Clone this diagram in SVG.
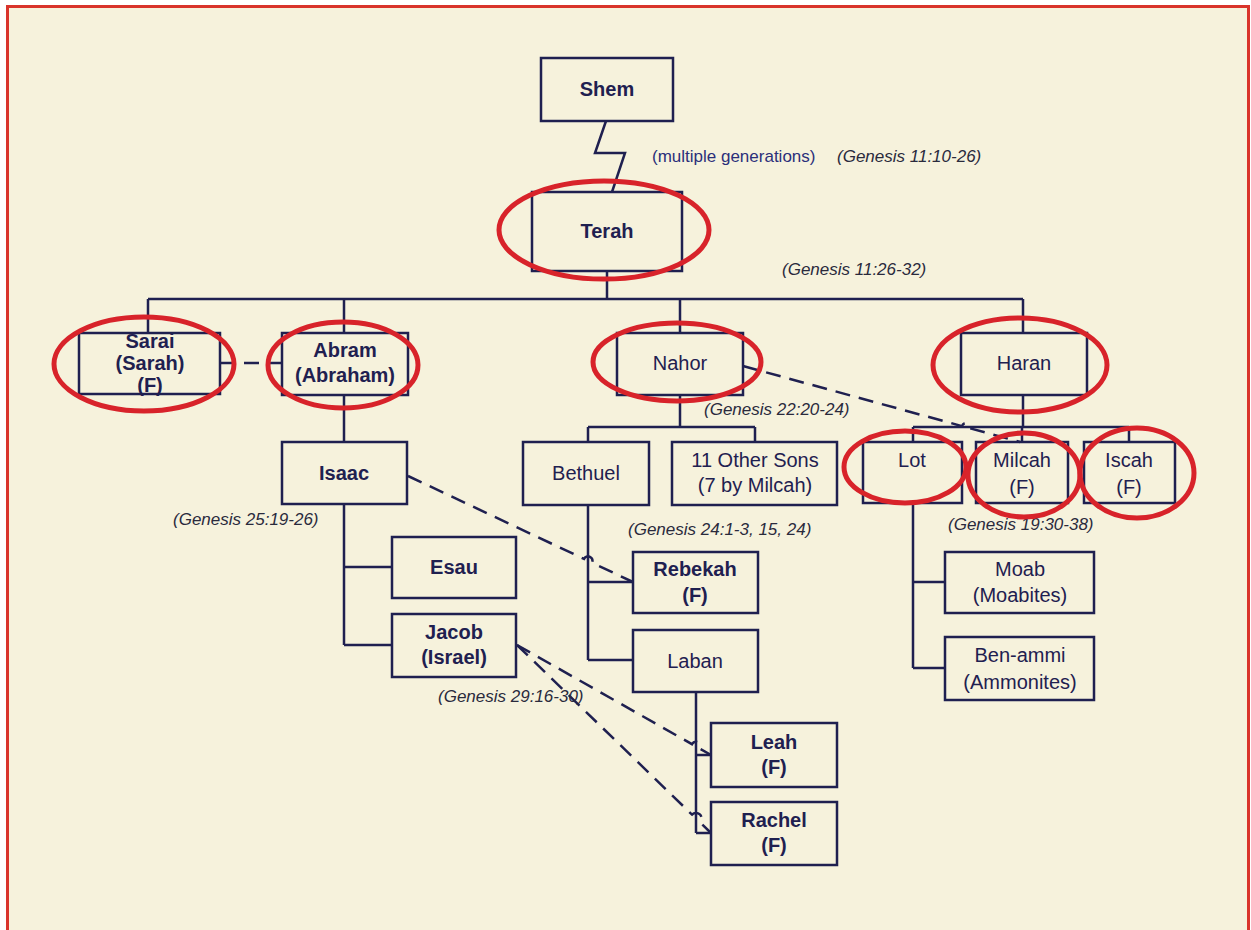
<svg xmlns="http://www.w3.org/2000/svg" width="1251" height="930" viewBox="0 0 1251 930">
<style>
.box{fill:none;stroke:#1f2050;stroke-width:2.5}
.ln{fill:none;stroke:#1f2050;stroke-width:2.5}
.dash{fill:none;stroke:#1f2050;stroke-width:2.5;stroke-dasharray:15 9}
.t{font-family:"Liberation Sans",Arial,sans-serif;font-size:20px;fill:#1f2050;text-anchor:middle}
.b{font-weight:bold}
.ref{font-family:"Liberation Sans",Arial,sans-serif;font-size:17px;font-style:italic;fill:#2a2a3c}
.note{font-family:"Liberation Sans",Arial,sans-serif;font-size:17px;fill:#2b2f7a}
.ring{fill:none;stroke:#d8232a;stroke-width:5}
</style>
<rect x="0" y="0" width="1251" height="930" fill="#ffffff"/>
<rect x="7.5" y="6.5" width="1241" height="930" fill="#f6f2dc"/>
<path d="M7.5 931 V6.5 H1248.5 V931" fill="none" stroke="#d9342b" stroke-width="3"/>

<g id="connectors">
<path class="ln" d="M606 121 L595 153 L625 153 L612 192"/>
<path class="ln" d="M607 271 V299 M148 299 H1023 M148 299 V333 M344 299 V333 M680 299 V333 M1023 299 V333"/>
<path class="dash" d="M220 363 H282"/>
<path class="ln" d="M344 395 V442"/>
<path class="ln" d="M680 395 V427 M588 427 H755 M588 427 V442 M755 427 V442"/>
<path class="ln" d="M1023 395 V427 M913 427 H1129 M913 427 V442 M1022 427 V442 M1129 427 V442"/>
<path class="ln" d="M344 504 V645 M344 567 H392 M344 645 H392"/>
<path class="ln" d="M588 505 V660 M588 582 H633 M588 660 H633"/>
<path class="ln" d="M696 692 V833 M696 755 H711 M696 833 H711"/>
<path class="ln" d="M913 503 V668 M913 582 H945 M913 668 H945"/>
<path class="dash" d="M743 366 L962 426.1 A4 4 0 0 1 970 428.3 L1020 442"/>
<path class="dash" d="M408 476 L584 558.9 A4 4 0 0 1 592 562.7 L633 582"/>
<path class="dash" d="M517 645 L692 744.2 A4 4 0 0 1 700 748.8 L711 755"/>
<path class="dash" d="M517 645 L692 814.6 A4 4 0 0 1 700 822.3 L711 833"/>
</g>

<g id="shem"><rect class="box" x="541" y="58" width="132" height="63"/><text class="t b" x="607" y="96">Shem</text></g>
<g id="terah"><rect class="box" x="532" y="192" width="150" height="79"/><text class="t b" x="607" y="238">Terah</text></g>
<g id="sarai"><rect class="box" x="79" y="333" width="141" height="61"/><text class="t b" x="150" y="348">Sarai</text><text class="t b" x="150" y="370">(Sarah)</text><text class="t b" x="150" y="392">(F)</text></g>
<g id="abram"><rect class="box" x="282" y="333" width="126" height="62"/><text class="t b" x="345" y="357">Abram</text><text class="t b" x="345" y="382">(Abraham)</text></g>
<g id="nahor"><rect class="box" x="617" y="333" width="126" height="62"/><text class="t" x="680" y="370">Nahor</text></g>
<g id="haran"><rect class="box" x="961" y="333" width="126" height="62"/><text class="t" x="1024" y="370">Haran</text></g>
<g id="isaac"><rect class="box" x="282" y="442" width="125" height="62"/><text class="t b" x="344" y="480">Isaac</text></g>
<g id="esau"><rect class="box" x="392" y="537" width="124" height="61"/><text class="t b" x="454" y="574">Esau</text></g>
<g id="jacob"><rect class="box" x="392" y="614" width="124" height="63"/><text class="t b" x="454" y="639">Jacob</text><text class="t b" x="454" y="664">(Israel)</text></g>
<g id="bethuel"><rect class="box" x="523" y="442" width="126" height="63"/><text class="t" x="586" y="480">Bethuel</text></g>
<g id="othersons"><rect class="box" x="672" y="442" width="165" height="63"/><text class="t" x="755" y="467">11 Other Sons</text><text class="t" x="755" y="492">(7 by Milcah)</text></g>
<g id="rebekah"><rect class="box" x="633" y="552" width="125" height="61"/><text class="t b" x="695" y="576">Rebekah</text><text class="t b" x="695" y="602">(F)</text></g>
<g id="laban"><rect class="box" x="633" y="630" width="125" height="62"/><text class="t" x="695" y="668">Laban</text></g>
<g id="leah"><rect class="box" x="711" y="723" width="126" height="64"/><text class="t b" x="774" y="749">Leah</text><text class="t b" x="774" y="774">(F)</text></g>
<g id="rachel"><rect class="box" x="711" y="802" width="126" height="63"/><text class="t b" x="774" y="827">Rachel</text><text class="t b" x="774" y="852">(F)</text></g>
<g id="lot"><rect class="box" x="863" y="442" width="99" height="61"/><text class="t" x="912" y="467">Lot</text></g>
<g id="milcah"><rect class="box" x="976" y="442" width="92" height="61"/><text class="t" x="1022" y="467">Milcah</text><text class="t" x="1022" y="494">(F)</text></g>
<g id="iscah"><rect class="box" x="1084" y="442" width="91" height="61"/><text class="t" x="1129" y="467">Iscah</text><text class="t" x="1129" y="494">(F)</text></g>
<g id="moab"><rect class="box" x="945" y="552" width="149" height="61"/><text class="t" x="1020" y="576">Moab</text><text class="t" x="1020" y="602">(Moabites)</text></g>
<g id="benammi"><rect class="box" x="945" y="637" width="149" height="63"/><text class="t" x="1020" y="662">Ben-ammi</text><text class="t" x="1020" y="689">(Ammonites)</text></g>

<g id="labels">
<text class="note" x="652" y="162">(multiple generations)</text>
<text class="ref" x="837" y="162">(Genesis 11:10-26)</text>
<text class="ref" x="782" y="275">(Genesis 11:26-32)</text>
<text class="ref" x="704" y="415">(Genesis 22:20-24)</text>
<text class="ref" x="173" y="525">(Genesis 25:19-26)</text>
<text class="ref" x="628" y="535">(Genesis 24:1-3, 15, 24)</text>
<text class="ref" x="438" y="702">(Genesis 29:16-30)</text>
<text class="ref" x="948" y="530">(Genesis 19:30-38)</text>
</g>

<g id="highlights">
<ellipse class="ring" cx="604" cy="230" rx="105" ry="49"/>
<ellipse class="ring" cx="144" cy="364" rx="90" ry="47"/>
<ellipse class="ring" cx="343" cy="365" rx="75" ry="43"/>
<ellipse class="ring" cx="677" cy="362" rx="84" ry="39"/>
<ellipse class="ring" cx="1020" cy="365" rx="87" ry="47"/>
<ellipse class="ring" cx="905" cy="467" rx="61" ry="36"/>
<ellipse class="ring" cx="1024" cy="475" rx="56" ry="42"/>
<ellipse class="ring" cx="1137" cy="473" rx="57" ry="45"/>
</g>
</svg>
